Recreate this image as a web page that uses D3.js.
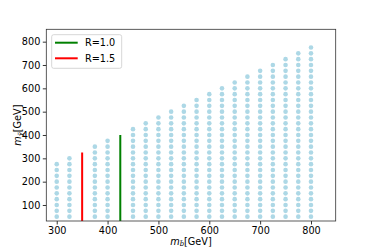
<!DOCTYPE html>
<html>
<head>
<meta charset="utf-8">
<script src="https://cdn.jsdelivr.net/npm/d3@7"></script>
<style>
  body { margin: 0; background: #fff; }
  text { font-family: "DejaVu Sans", sans-serif; }
</style>
</head>
<body>
<div id="chart"></div>
<script>
// sbottom mass grid (GeV)
var massX = [300, 325, 350, 375, 400, 425, 450, 475, 500, 525, 550, 575, 600,
  625, 650, 675, 700, 725, 750, 775, 800];
// highest neutralino mass in each column
var massYTop = [275, 300, 325, 350, 375, 400, 425, 450, 475, 500, 525, 550, 575,
  600, 625, 650, 675, 700, 725, 750, 775];
var massYStart = 50, massYStep = 25;

var limitLabels = ["R=1.0", "R=1.5"];
var limitX = [425, 350];
var limitTop = [400, 325];
var limitColors = ["green", "red"];

var xTicks = [300, 400, 500, 600, 700, 800];
var yTicks = [100, 200, 300, 400, 500, 600, 700, 800];

var width = 374, height = 249,
  margin = { top: 29.3, right: 38.3, bottom: 28, left: 46.3 };
var innerW = width - margin.left - margin.right,
  innerH = height - margin.top - margin.bottom;

// Build points
var points = [];
massX.forEach(function (mx, i) {
  if (limitX.indexOf(mx) >= 0) return;
  for (var my = massYStart; my <= massYTop[i]; my += massYStep) {
    points.push({ x: mx, y: my });
  }
});

var x = d3.scaleLinear().domain([279.5, 848.6]).range([0, innerW]);
var y = d3.scaleLinear().domain([31.4, 853]).range([innerH, 0]);

var svg = d3.select('#chart').append('svg')
  .attr('width', width)
  .attr('height', height);

var g = svg.append('g')
  .attr('transform', 'translate(' + margin.left + ',' + margin.top + ')');

g.append('clipPath').attr('id', 'clip')
  .append('rect').attr('width', innerW).attr('height', innerH);

var plot = g.append('g').attr('clip-path', 'url(#clip)');

plot.selectAll('circle.pt')
  .data(points)
  .enter().append('circle')
  .attr('class', 'pt')
  .attr('cx', d => x(d.x))
  .attr('cy', d => y(d.y))
  .attr('r', 2.3)
  .attr('fill', '#add8e6');

// exclusion lines
plot.selectAll('line.limit')
  .data(limitX)
  .enter().append('line')
  .attr('class', 'limit')
  .attr('x1', d => x(d))
  .attr('x2', d => x(d))
  .attr('y1', y(0))
  .attr('y2', (d, i) => y(limitTop[i]))
  .attr('stroke', (d, i) => limitColors[i])
  .attr('stroke-width', 2);

// Axes
var xAxis = d3.axisBottom(x).tickValues(xTicks).tickSize(3.5).tickPadding(2.5);
var yAxis = d3.axisLeft(y).tickValues(yTicks).tickSize(3.5).tickPadding(2.5);

g.append('g')
  .attr('transform', 'translate(0,' + innerH + ')')
  .call(xAxis)
  .call(a => a.select('.domain').remove())
  .call(a => a.selectAll('.tick text').style('font-size', '9.7px').attr('fill', '#000'))
  .call(a => a.selectAll('.tick line').attr('stroke', '#000').attr('stroke-width', 0.8));

g.append('g')
  .call(yAxis)
  .call(a => a.select('.domain').remove())
  .call(a => a.selectAll('.tick text').style('font-size', '9.7px').attr('fill', '#000'))
  .call(a => a.selectAll('.tick line').attr('stroke', '#000').attr('stroke-width', 0.8));

// frame
g.append('rect')
  .attr('width', innerW)
  .attr('height', innerH)
  .attr('fill', 'none')
  .attr('stroke', '#333')
  .attr('stroke-width', 0.8);

// Axis labels
var xl = svg.append('text')
  .attr('x', margin.left + innerW / 2)
  .attr('y', 244.5)
  .attr('text-anchor', 'middle')
  .style('font-size', '9.7px');
xl.append('tspan').style('font-style', 'italic').text('m');
xl.append('tspan').style('font-style', 'italic').style('font-size', '6.8px').attr('dy', 1.5).text('b\u0303');
xl.append('tspan').attr('dy', -1.5).text('[GeV]');

var yl = svg.append('text')
  .attr('transform', 'translate(21,' + (margin.top + innerH / 2) + ') rotate(-90)')
  .attr('text-anchor', 'middle')
  .style('font-size', '9.7px');
yl.append('tspan').style('font-style', 'italic').text('m');
yl.append('tspan').style('font-style', 'italic').style('font-size', '6.8px').attr('dy', 1.5).text('\u03c7\u0303');
yl.append('tspan').attr('dy', -1.5).text('[GeV]');

// Legend
var legend = g.append('g').attr('transform', 'translate(5.4,5.4)');
legend.append('rect')
  .attr('width', 70)
  .attr('height', 33.6)
  .attr('rx', 2)
  .attr('fill', '#fff')
  .attr('fill-opacity', 0.8)
  .attr('stroke', '#ccc')
  .attr('stroke-width', 0.8);

var item = legend.selectAll('g.item')
  .data(limitLabels)
  .enter().append('g')
  .attr('class', 'item')
  .attr('transform', (d, i) => 'translate(0,' + (8 + i * 15.6) + ')');
item.append('line')
  .attr('x1', 3.3).attr('x2', 26)
  .attr('stroke', (d, i) => limitColors[i])
  .attr('stroke-width', 2);
item.append('text')
  .attr('x', 33.3)
  .attr('dy', '0.35em')
  .style('font-size', '9.7px')
  .text(d => d);
</script>
</body>
</html>
